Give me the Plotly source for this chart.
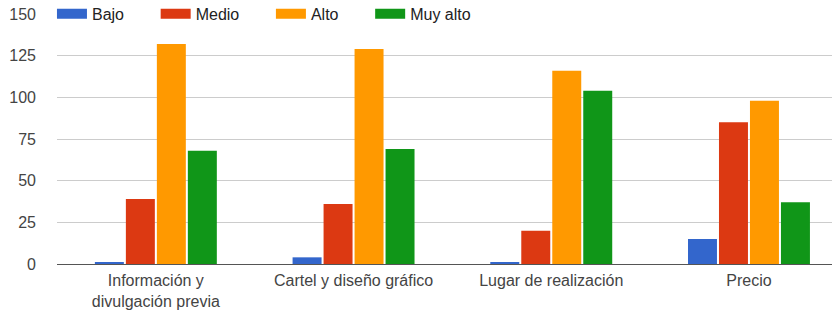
import plotly.graph_objects as go

categories = ["Información y<br>divulgación previa", "Cartel y diseño gráfico",
              "Lugar de realización", "Precio"]
series_names = ["Bajo", "Medio", "Alto", "Muy alto"]
bajo = [1, 4, 1, 15]
medio = [39, 36, 20, 85]
alto = [132, 129, 116, 98]
muy_alto = [68, 69, 104, 37]
colors = ["#3366CC", "#DC3912", "#FF9900", "#109618"]
y_ticks = [0, 25, 50, 75, 100, 125, 150]

FONT = "Liberation Sans, Arial, sans-serif"
NBSP = "\u00a0" * 6

fig = go.Figure()
for name, vals, col in zip(series_names, [bajo, medio, alto, muy_alto], colors):
    fig.add_trace(go.Bar(x=categories, y=vals, name=name, marker_color=col,
                         marker_line_width=0, showlegend=False))
for name, col in zip(series_names, colors):
    fig.add_trace(go.Scatter(x=[None], y=[None], mode="lines", name=name + NBSP,
                             line=dict(color=col, width=14), showlegend=True))

fig.update_layout(
    width=832, height=317,
    margin=dict(l=57, r=0, t=14, b=53, autoexpand=False),
    paper_bgcolor="white", plot_bgcolor="white",
    barmode="group", bargap=0.373, bargroupgap=0.065,
    font=dict(family=FONT, size=16, color="#444444"),
    showlegend=True,
    legend=dict(orientation="h", x=-0.0065, xanchor="left", y=1.001, yanchor="middle",
                bgcolor="rgba(0,0,0,0)", font=dict(size=16, color="#222222"),
                itemclick=False, traceorder="normal"),
    xaxis=dict(range=[-0.5, 3.42], showgrid=False, showline=False, zeroline=False,
               ticks="", ticklabelstandoff=5, tickfont=dict(size=16, color="#444444")),
    yaxis=dict(range=[0, 150], tickvals=y_ticks, showgrid=True, gridcolor="#CCCCCC",
               gridwidth=1, zeroline=True, zerolinecolor="#555555", zerolinewidth=1,
               showline=False, ticks="", ticklabelstandoff=20,
               tickfont=dict(size=16, color="#444444")),
)

fig.write_html("out.html", config={"displayModeBar": False},
               post_script="document.body.style.margin='0';document.body.style.overflow='hidden';")
